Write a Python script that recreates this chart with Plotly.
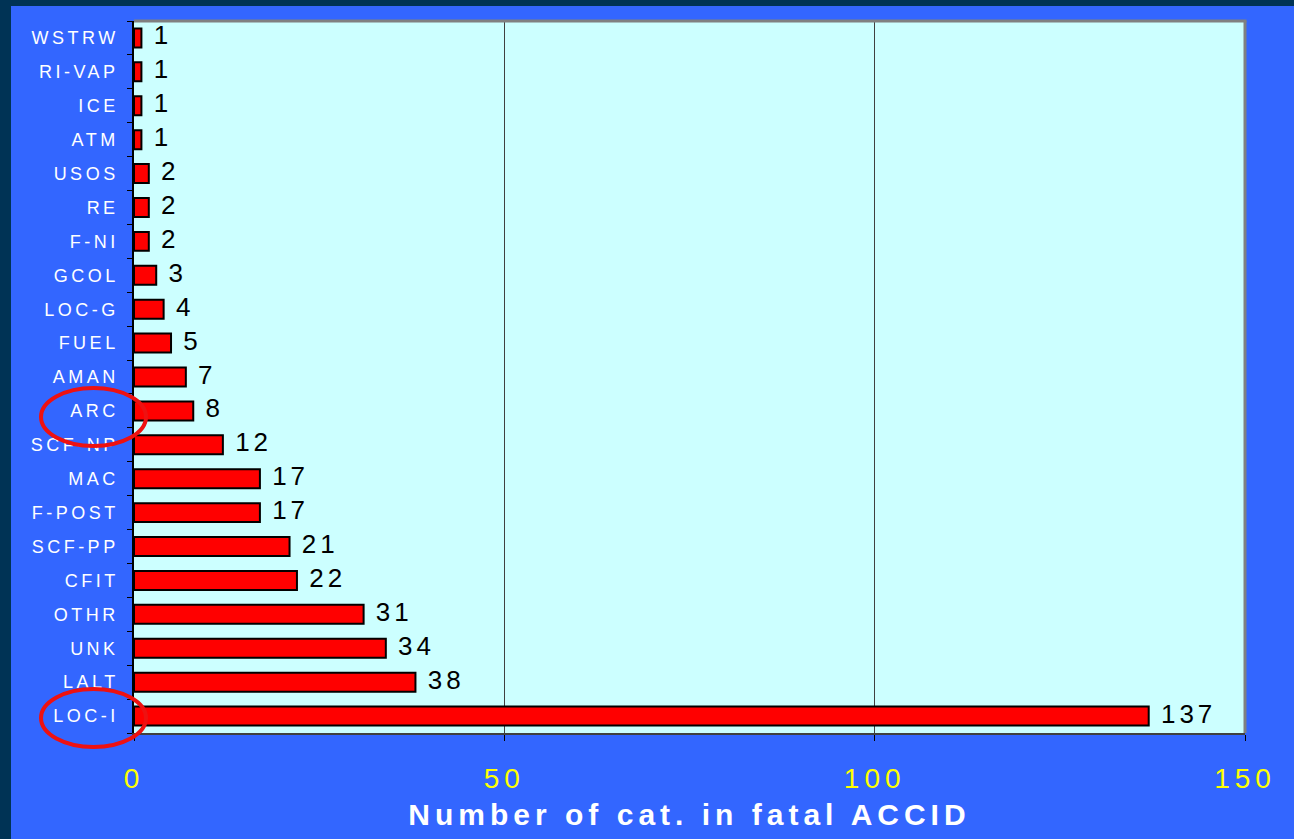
import plotly.graph_objects as go

categories = ["LOC-I", "LALT", "UNK", "OTHR", "CFIT", "SCF-PP", "F-POST", "MAC",
              "SCF-NP", "ARC", "AMAN", "FUEL", "LOC-G", "GCOL", "F-NI", "RE",
              "USOS", "ATM", "ICE", "RI-VAP", "WSTRW"]
counts = [137, 38, 34, 31, 22, 21, 17, 17, 12, 8, 7, 5, 4, 3, 2, 2, 2, 1, 1, 1, 1]
x_ticks = [0, 50, 100, 150]
x_title = "Number of cat. in fatal ACCID"
circled = ["ARC", "LOC-I"]

W, H = 1294, 839
L, R, T, B = 134, 1245, 21, 733  # plot area in pixels

def px(x):
    return (x - L) / (R - L)

def py(y):
    return (B - y) / (B - T)

fig = go.Figure()
fig.add_trace(go.Bar(
    y=categories, x=counts, orientation="h",
    marker=dict(color="#FF0000", line=dict(color="#000000", width=2)),
    width=0.56, hoverinfo="skip",
))
# value labels at the bar ends
fig.add_trace(go.Scatter(
    y=categories, x=counts, mode="markers+text",
    text=[str(v) for v in counts], textposition="middle right",
    marker=dict(size=18, color="rgba(0,0,0,0)"),
    textfont=dict(family="Liberation Sans, Arial", size=26, color="#000000"),
    cliponaxis=False, hoverinfo="skip",
))

shapes = [
    dict(type="rect", xref="paper", yref="paper", x0=px(0), x1=px(11), y0=py(H), y1=py(0),
         fillcolor="#003355", line=dict(width=0), layer="above"),
    dict(type="rect", xref="paper", yref="paper", x0=px(0), x1=px(W), y0=py(6), y1=py(0),
         fillcolor="#003355", line=dict(width=0), layer="above"),
    dict(type="line", xref="paper", yref="paper", x0=0, x1=1 + 1.5 / (R - L), y0=1, y1=1,
         line=dict(color="#808080", width=3)),
    dict(type="line", xref="paper", yref="paper", x0=1, x1=1, y0=0, y1=1,
         line=dict(color="#808080", width=3)),
]
ellipse_centers = {"ARC": 416, "LOC-I": 717}
for c in circled:
    cy = ellipse_centers[c]
    shapes.append(dict(type="circle", xref="paper", yref="paper",
                       x0=px(41), x1=px(146), y0=py(cy + 30), y1=py(cy - 28),
                       line=dict(color="#EE1111", width=4)))

fig.update_layout(
    width=W, height=H,
    margin=dict(l=L, r=W - R, t=T, b=H - B, pad=0),
    paper_bgcolor="#3366FF", plot_bgcolor="#CCFFFF",
    showlegend=False, bargap=0.44,
    shapes=shapes,
    xaxis=dict(
        range=[0, 150], tickvals=x_ticks, ticktext=[str(v) for v in x_ticks],
        showgrid=True, gridcolor="#404040", gridwidth=1,
        showline=True, linecolor="#404040", linewidth=2,
        ticks="outside", ticklen=6, tickcolor="#000000",
        tickfont=dict(family="Liberation Sans, Arial", size=28, color="#FFFF00"),
        ticklabelstandoff=13,
        zeroline=False,
        title=dict(text="<b>" + x_title + "</b>", standoff=11,
                   font=dict(family="Liberation Sans, Arial", size=30, color="#FFFFFF")),
    ),
    yaxis=dict(
        range=[-0.5, len(categories) - 0.5],
        showline=True, linecolor="#000000", linewidth=1.5,
        ticks="outside", ticklen=5, tickcolor="#000000", tickson="boundaries",
        tickfont=dict(family="Liberation Sans, Arial", size=18, color="#FFFFFF"),
        ticklabelstandoff=10, showgrid=False,
    ),
    font=dict(family="Liberation Sans, Arial"),
)

post = """
document.body.style.margin = '0px';
document.body.style.padding = '0px';
document.body.style.overflow = 'hidden';
var gd = document.getElementById('{plot_id}');
function spaceText() {
  gd.querySelectorAll('.xtitle').forEach(function(e){ e.style.letterSpacing = '5px'; });
  gd.querySelectorAll('.xtick text').forEach(function(e){ e.style.letterSpacing = '5px'; });
  gd.querySelectorAll('.ytick text').forEach(function(e){ e.style.letterSpacing = '3.5px'; });
  gd.querySelectorAll('.textpoint text').forEach(function(e){ e.style.letterSpacing = '4px'; });
}
spaceText();
gd.on('plotly_afterplot', spaceText);
"""

fig.write_html("out.html", post_script=post, config={"displayModeBar": False})
